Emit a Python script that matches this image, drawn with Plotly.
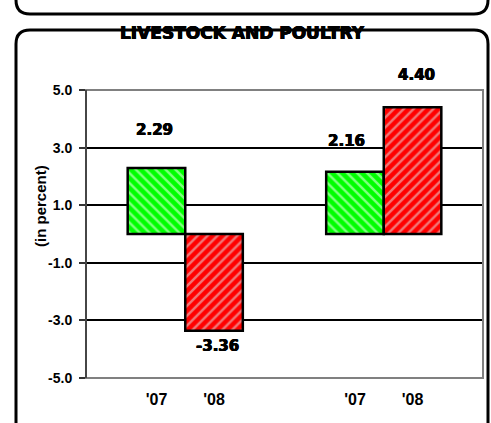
import plotly.graph_objects as go

# ---- data ----
groups = [0, 1]
years = ["'07", "'08"]
vals_07 = [2.29, 2.16]
vals_08 = [-3.36, 4.40]
title_text = "LIVESTOCK AND POULTRY"
y_title = "(in percent)"
y_ticks = [-5.0, -3.0, -1.0, 1.0, 3.0, 5.0]

W, H = 491, 423
L, R, T, B = 86, 8, 90, 45
PW, PH = W - L - R, H - T - B
BARGAP = 0.42
bw = (1 - BARGAP) / 2
HEAVY = "0.5px 0 0 black, -0.5px 0 0 black, 0 0.4px 0 black"

fig = go.Figure()
fig.add_trace(go.Bar(
    x=groups, y=vals_07, name="'07",
    marker=dict(color="#00ff00", line=dict(color="black", width=2.5),
                pattern=dict(shape="\\", fgcolor="white", size=7, solidity=0.35)),
))
fig.add_trace(go.Bar(
    x=groups, y=vals_08, name="'08",
    marker=dict(color="#ff0000", line=dict(color="black", width=2.5),
                pattern=dict(shape="/", fgcolor="#dff0f0", size=7, solidity=0.35)),
))

tickvals, ticktext = [], []
for g in groups:
    for i, yr in enumerate(years):
        tickvals.append(g + (i - 0.5) * bw)
        ticktext.append(yr)

def px(x):
    return (x - L) / PW

def py(y):
    return (H - B - y) / PH

# data labels
lab_style = [(-2, 27), (3, -4), (-8, 20), (4, 21)]
k = 0
for g in groups:
    for i, v in enumerate([vals_07[g], vals_08[g]]):
        dx, dy = lab_style[k]
        k += 1
        fig.add_annotation(
            x=g + (i - 0.5) * bw, y=v, text=f"{v:.2f}", showarrow=False,
            xshift=dx, yshift=dy, yanchor="bottom" if v >= 0 else "top",
            font=dict(family="DejaVu Sans", size=15, color="black", weight="bold",
                      shadow=HEAVY),
        )

# outer rounded box
x0, x1, y0, y1, r = 16, 488, 30, 440, 14
rx, ry = r / PW, r / PH
path = (f"M {px(x0)},{py(y1)} L {px(x0)},{py(y0)-ry} "
        f"Q {px(x0)},{py(y0)} {px(x0)+rx},{py(y0)} "
        f"L {px(x1)-rx},{py(y0)} Q {px(x1)},{py(y0)} {px(x1)},{py(y0)-ry} "
        f"L {px(x1)},{py(y1)}")
fig.add_shape(type="path", xref="paper", yref="paper", path=path,
              line=dict(color="black", width=3))
# top box bottom edge
yb = 14
path2 = (f"M {px(x0)},{py(-5)} L {px(x0)},{py(yb)+ry} "
         f"Q {px(x0)},{py(yb)} {px(x0)+rx},{py(yb)} "
         f"L {px(x1)-rx},{py(yb)} Q {px(x1)},{py(yb)} {px(x1)},{py(yb)+ry} "
         f"L {px(x1)},{py(-5)}")
fig.add_shape(type="path", xref="paper", yref="paper", path=path2,
              line=dict(color="black", width=3))
# plot border
fig.add_shape(type="rect", xref="paper", yref="paper", x0=0, x1=1, y0=0, y1=1,
              line=dict(color="#808080", width=2), layer="above")
fig.add_shape(type="line", xref="paper", yref="paper", x0=0, x1=0, y0=0, y1=1,
              line=dict(color="#333333", width=1.5), layer="above")

fig.add_annotation(
    x=px(242), y=py(33), xref="paper", yref="paper", text=title_text,
    showarrow=False, yanchor="middle", xanchor="center",
    font=dict(family="DejaVu Sans", size=17, color="black", weight="bold",
              shadow=HEAVY),
)
fig.add_annotation(
    x=px(40), y=py(206), xref="paper", yref="paper", text=y_title,
    showarrow=False, textangle=-90, xanchor="center", yanchor="middle",
    font=dict(family="Liberation Sans", size=15, color="black", weight="bold"),
)

fig.update_layout(
    width=W, height=H, margin=dict(l=L, r=R, t=T, b=B),
    paper_bgcolor="white", plot_bgcolor="white",
    barmode="group", bargap=BARGAP, bargroupgap=0, showlegend=False,
    font=dict(family="Liberation Sans", color="black"),
    xaxis=dict(range=[-0.5, 1.5], tickvals=tickvals, ticktext=ticktext,
               showgrid=False, zeroline=False, showline=False, ticks="",
               tickfont=dict(size=16, weight="bold"), ticklabelstandoff=10),
    yaxis=dict(range=[-5, 5], tickvals=y_ticks, ticktext=[f"{v:.1f}" for v in y_ticks],
               showgrid=True, gridcolor="black", gridwidth=2, zeroline=False,
               showline=False, ticks="outside", ticklen=6, tickcolor="#333",
               tickwidth=1.5, tickfont=dict(size=14, weight="bold"),
               ticklabelstandoff=4),
)

fig.write_html("out.html", config={"displayModeBar": False},
               post_script="document.body.style.margin='0';")
